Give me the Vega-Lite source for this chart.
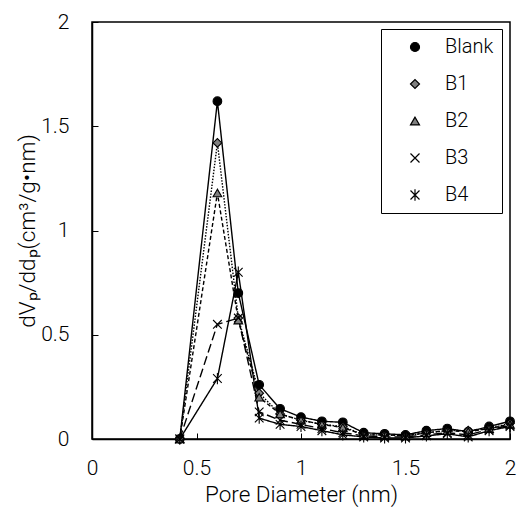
{
  "$schema": "https://vega.github.io/schema/vega-lite/v6.json",
  "width": 418,
  "height": 417,
  "autosize": "none",
  "padding": {"left": 92, "top": 22, "right": 7, "bottom": 69},
  "background": "white",
  "config": {
    "font": "Roboto",
    "view": {"stroke": "black", "strokeWidth": 1.5},
    "axis": {
      "grid": false,
      "domainColor": "black",
      "domainWidth": 1.5,
      "tickColor": "black",
      "tickSize": -6,
      "tickWidth": 1,
      "labelColor": "black",
      "labelFont": "Roboto",
      "labelFontSize": 21,
      "labelFontWeight": 300,
      "labelFlush": false,
      "titleFont": "Roboto",
      "titleFontSize": 22.5,
      "titleFontWeight": 300,
      "titleColor": "black"
    },
    "legend": {
      "labelFont": "Roboto",
      "labelFontSize": 20,
      "labelFontWeight": 300,
      "labelColor": "black"
    }
  },
  "data": {
    "values": [
      {"d": 0.42, "v": 0, "s": "Blank"},
      {"d": 0.6, "v": 1.62, "s": "Blank"},
      {"d": 0.7, "v": 0.70, "s": "Blank"},
      {"d": 0.8, "v": 0.26, "s": "Blank"},
      {"d": 0.9, "v": 0.145, "s": "Blank"},
      {"d": 1.0, "v": 0.105, "s": "Blank"},
      {"d": 1.1, "v": 0.085, "s": "Blank"},
      {"d": 1.2, "v": 0.08, "s": "Blank"},
      {"d": 1.3, "v": 0.03, "s": "Blank"},
      {"d": 1.4, "v": 0.025, "s": "Blank"},
      {"d": 1.5, "v": 0.02, "s": "Blank"},
      {"d": 1.6, "v": 0.04, "s": "Blank"},
      {"d": 1.7, "v": 0.05, "s": "Blank"},
      {"d": 1.8, "v": 0.035, "s": "Blank"},
      {"d": 1.9, "v": 0.06, "s": "Blank"},
      {"d": 2.0, "v": 0.085, "s": "Blank"},
      {"d": 0.42, "v": 0, "s": "B1"},
      {"d": 0.6, "v": 1.42, "s": "B1"},
      {"d": 0.7, "v": 0.58, "s": "B1"},
      {"d": 0.8, "v": 0.22, "s": "B1"},
      {"d": 0.9, "v": 0.12, "s": "B1"},
      {"d": 1.0, "v": 0.09, "s": "B1"},
      {"d": 1.1, "v": 0.07, "s": "B1"},
      {"d": 1.2, "v": 0.06, "s": "B1"},
      {"d": 1.3, "v": 0.02, "s": "B1"},
      {"d": 1.4, "v": 0.02, "s": "B1"},
      {"d": 1.5, "v": 0.015, "s": "B1"},
      {"d": 1.6, "v": 0.03, "s": "B1"},
      {"d": 1.7, "v": 0.04, "s": "B1"},
      {"d": 1.8, "v": 0.04, "s": "B1"},
      {"d": 1.9, "v": 0.05, "s": "B1"},
      {"d": 2.0, "v": 0.075, "s": "B1"},
      {"d": 0.42, "v": 0, "s": "B2"},
      {"d": 0.6, "v": 1.18, "s": "B2"},
      {"d": 0.7, "v": 0.57, "s": "B2"},
      {"d": 0.8, "v": 0.2, "s": "B2"},
      {"d": 0.9, "v": 0.12, "s": "B2"},
      {"d": 1.0, "v": 0.09, "s": "B2"},
      {"d": 1.1, "v": 0.07, "s": "B2"},
      {"d": 1.2, "v": 0.055, "s": "B2"},
      {"d": 1.3, "v": 0.02, "s": "B2"},
      {"d": 1.4, "v": 0.02, "s": "B2"},
      {"d": 1.5, "v": 0.015, "s": "B2"},
      {"d": 1.6, "v": 0.03, "s": "B2"},
      {"d": 1.7, "v": 0.04, "s": "B2"},
      {"d": 1.8, "v": 0.035, "s": "B2"},
      {"d": 1.9, "v": 0.05, "s": "B2"},
      {"d": 2.0, "v": 0.07, "s": "B2"},
      {"d": 0.42, "v": 0, "s": "B3"},
      {"d": 0.6, "v": 0.55, "s": "B3"},
      {"d": 0.7, "v": 0.58, "s": "B3"},
      {"d": 0.8, "v": 0.13, "s": "B3"},
      {"d": 0.9, "v": 0.09, "s": "B3"},
      {"d": 1.0, "v": 0.07, "s": "B3"},
      {"d": 1.1, "v": 0.05, "s": "B3"},
      {"d": 1.2, "v": 0.03, "s": "B3"},
      {"d": 1.3, "v": 0.015, "s": "B3"},
      {"d": 1.4, "v": 0.01, "s": "B3"},
      {"d": 1.5, "v": 0.01, "s": "B3"},
      {"d": 1.6, "v": 0.02, "s": "B3"},
      {"d": 1.7, "v": 0.03, "s": "B3"},
      {"d": 1.8, "v": 0.02, "s": "B3"},
      {"d": 1.9, "v": 0.045, "s": "B3"},
      {"d": 2.0, "v": 0.065, "s": "B3"},
      {"d": 0.42, "v": 0, "s": "B4"},
      {"d": 0.6, "v": 0.29, "s": "B4"},
      {"d": 0.7, "v": 0.80, "s": "B4"},
      {"d": 0.8, "v": 0.10, "s": "B4"},
      {"d": 0.9, "v": 0.07, "s": "B4"},
      {"d": 1.0, "v": 0.06, "s": "B4"},
      {"d": 1.1, "v": 0.04, "s": "B4"},
      {"d": 1.2, "v": 0.02, "s": "B4"},
      {"d": 1.3, "v": 0.01, "s": "B4"},
      {"d": 1.4, "v": 0.005, "s": "B4"},
      {"d": 1.5, "v": 0.005, "s": "B4"},
      {"d": 1.6, "v": 0.015, "s": "B4"},
      {"d": 1.7, "v": 0.025, "s": "B4"},
      {"d": 1.8, "v": 0.01, "s": "B4"},
      {"d": 1.9, "v": 0.04, "s": "B4"},
      {"d": 2.0, "v": 0.06, "s": "B4"}
    ]
  },
  "encoding": {
    "x": {
      "field": "d",
      "type": "quantitative",
      "scale": {"domain": [0, 2], "nice": false, "zero": false},
      "axis": {"values": [0, 0.5, 1, 1.5, 2], "format": "~g", "title": "Pore Diameter (nm)", "labelPadding": 24, "titlePadding": 5}
    },
    "y": {
      "field": "v",
      "type": "quantitative",
      "scale": {"domain": [0, 2], "nice": false},
      "axis": {"values": [0, 0.5, 1, 1.5, 2], "format": "~g", "title": "dVₚ/ddₚ(cm³/g•nm)", "labelPadding": 29, "titlePadding": 1}
    }
  },
  "layer": [
    {
      "mark": {"type": "line", "color": "black", "strokeWidth": 1.4},
      "encoding": {
        "detail": {"field": "s"},
        "strokeDash": {
          "field": "s",
          "type": "nominal",
          "sort": ["Blank", "B1", "B2", "B3", "B4"],
          "scale": {"range": [[1, 0], [1.5, 1.5], [4, 2.5], [9, 4], [1, 0]]},
          "legend": null
        }
      }
    },
    {
      "mark": {"type": "point", "filled": true, "size": 75, "stroke": "black", "strokeWidth": 1.1, "opacity": 1},
      "encoding": {
        "shape": {
          "field": "s",
          "type": "nominal",
          "scale": {"domain": ["Blank", "B1", "B2", "B3", "B4"], "range": ["circle", "diamond", "triangle-up", "M-1,-1L1,1M-1,1L1,-1", "M-1,-1L1,1M-1,1L1,-1M0,-1.3L0,1.3"]},
          "legend": {
            "title": null,
            "orient": "none",
            "legendX": 289,
            "legendY": 7,
            "strokeColor": "black",
            "fillColor": "white",
            "padding": 8,
            "symbolSize": 81,
            "symbolOffset": 16,
            "symbolStrokeWidth": 1.2,
            "rowPadding": 17,
            "labelOffset": 20
          }
        },
        "fill": {
          "field": "s",
          "type": "nominal",
          "scale": {"domain": ["Blank", "B1", "B2", "B3", "B4"], "range": ["black", "#808080", "#808080", "black", "black"]}
        }
      }
    }
  ]
}
